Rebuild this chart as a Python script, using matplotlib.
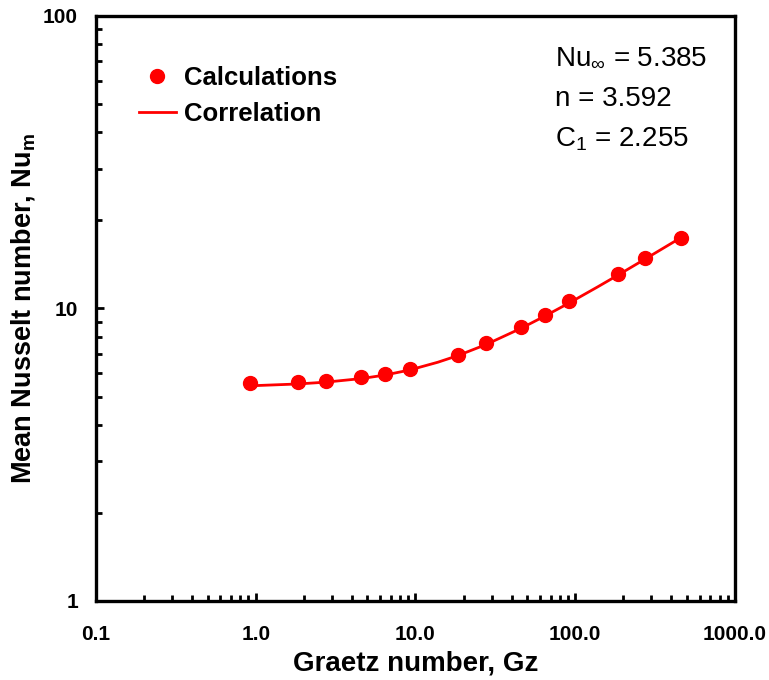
import matplotlib
matplotlib.use('Agg')
import matplotlib.pyplot as plt
from matplotlib.ticker import FixedLocator, FixedFormatter, NullFormatter, LogLocator

plt.rcParams['font.family'] = ['Liberation Sans', 'DejaVu Sans']
plt.rcParams['mathtext.fontset'] = 'custom'
plt.rcParams['mathtext.rm'] = 'Liberation Sans'
plt.rcParams['mathtext.it'] = 'Liberation Sans:italic'
plt.rcParams['mathtext.bf'] = 'Liberation Sans:bold'

# Calculated points
gz_calc = [0.918, 1.84, 2.75, 4.59, 6.43, 9.18, 18.4, 27.5, 45.9, 64.3, 91.8, 184, 275, 459]
nu_calc = [5.56, 5.61, 5.65, 5.83, 5.97, 6.21, 6.93, 7.62, 8.65, 9.50, 10.6, 13.1, 14.9, 17.4]

# Correlation line
gz_corr = [0.918, 1.84, 2.75, 4.59, 6.43, 9.18, 13.8, 18.4, 27.5, 45.9, 64.3, 91.8, 138, 184, 275, 459]
nu_corr = [5.44, 5.52, 5.60, 5.76, 5.92, 6.16, 6.55, 6.90, 7.52, 8.56, 9.41, 10.45, 11.85, 12.98, 14.78, 17.47]

x_ticks = [0.1, 1, 10, 100, 1000]
x_labels = ['0.1', '1.0', '10.0', '100.0', '1000.0']
y_ticks = [1, 10, 100]
y_labels = ['1', '10', '100']

fig = plt.figure(figsize=(7.69, 6.80), dpi=100)
ax = fig.add_axes([0.1248, 0.1162, 0.8310, 0.8603])

ax.plot(gz_corr, nu_corr, color='#ff0000', lw=2, label='Correlation', zorder=2)
ax.plot(gz_calc, nu_calc, 'o', color='#ff0000', ms=10, label='Calculations', zorder=3)

ax.set_xscale('log')
ax.set_yscale('log')
ax.set_xlim(0.1, 1000)
ax.set_ylim(1, 100)

ax.xaxis.set_major_locator(FixedLocator(x_ticks))
ax.xaxis.set_major_formatter(FixedFormatter(x_labels))
ax.yaxis.set_major_locator(FixedLocator(y_ticks))
ax.yaxis.set_major_formatter(FixedFormatter(y_labels))
ax.xaxis.set_minor_locator(LogLocator(base=10, subs=range(2, 10)))
ax.yaxis.set_minor_locator(LogLocator(base=10, subs=range(2, 10)))
ax.xaxis.set_minor_formatter(NullFormatter())
ax.yaxis.set_minor_formatter(NullFormatter())

ax.tick_params(which='both', direction='in', top=False, right=False, width=2)
ax.tick_params(which='major', length=6)
ax.tick_params(which='minor', length=4.5)
ax.tick_params(axis='x', which='major', pad=17, labelsize=15)
ax.tick_params(axis='y', which='major', pad=13, labelsize=15)
for lab in ax.get_xticklabels() + ax.get_yticklabels():
    lab.set_fontweight('bold')

for sp in ax.spines.values():
    sp.set_linewidth(2.4)

ax.set_xlabel('Graetz number, Gz', fontsize=20, fontweight='bold', labelpad=5)
ax.set_ylabel(r'Mean Nusselt number, Nu$_\mathbf{m}$', fontsize=19.5, fontweight='bold', labelpad=4)

handles, labels = ax.get_legend_handles_labels()
ax.legend([handles[1], handles[0]], [labels[1], labels[0]], loc='upper left',
          bbox_to_anchor=(0.047, 0.937), frameon=False, borderpad=0,
          handlelength=1.45, handletextpad=0.3, labelspacing=0.48,
          prop={'weight': 'bold', 'size': 18.5})

ax.text(0.718, 0.930, r'Nu$_\infty$ = 5.385', transform=ax.transAxes, fontsize=20, va='center')
ax.text(0.718, 0.858, 'n = 3.592', transform=ax.transAxes, fontsize=20, va='center')
ax.text(0.718, 0.790, r'C$_1$ = 2.255', transform=ax.transAxes, fontsize=20, va='center')

fig.savefig('out.png', dpi=100)
